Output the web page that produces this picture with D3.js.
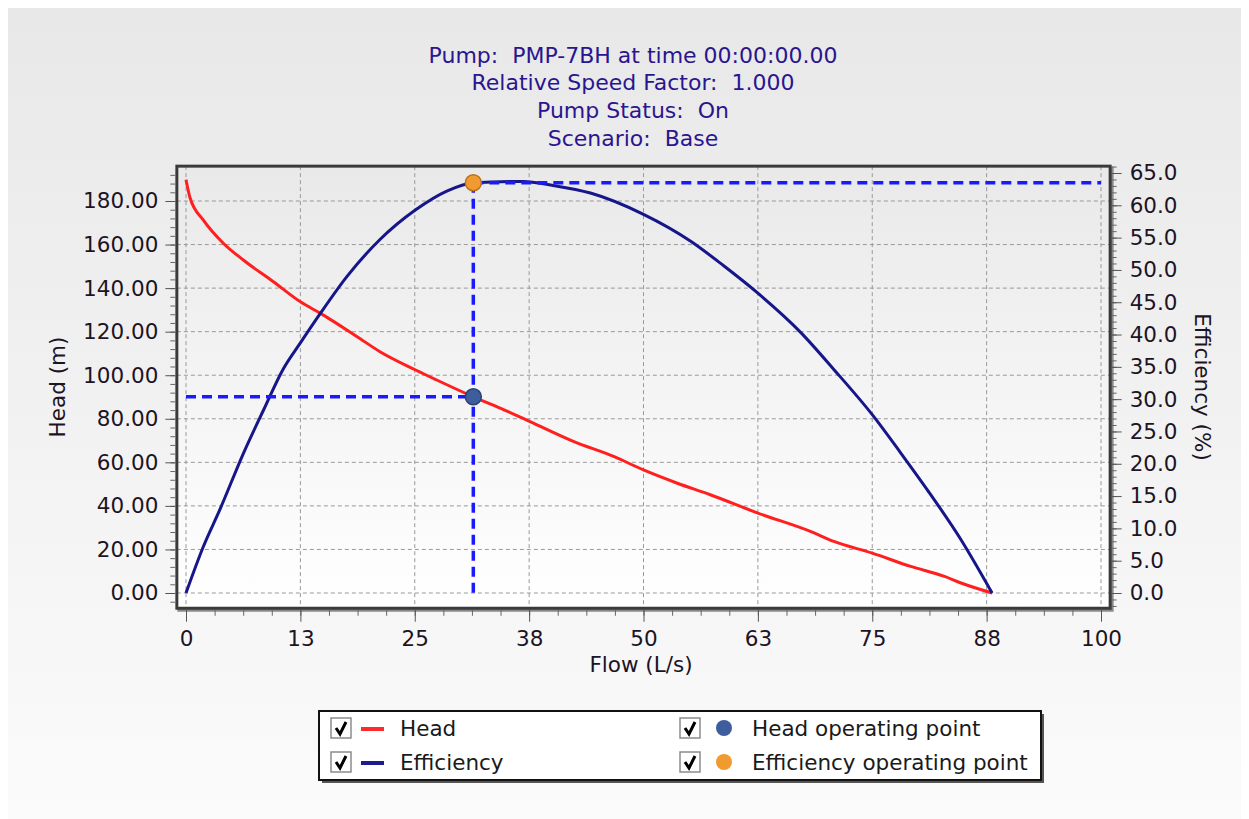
<!DOCTYPE html>
<html>
<head>
<meta charset="utf-8">
<script src="https://cdn.jsdelivr.net/npm/d3@7"></script>
<style>
body { margin: 0; background: #fff; }
svg text { font-family: "DejaVu Sans", sans-serif; white-space: pre; }
</style>
</head>
<body>
<div id="chart-area"></div>
<script>
const FONT_SIZE = 21.5;

// chart values
const titleLines = ["Pump:  PMP-7BH at time 00:00:00.00", "Relative Speed Factor:  1.000", "Pump Status:  On", "Scenario:  Base"];

const headFlow = [0, 0.44, 1.9, 4.1, 6.3, 9.55, 12.5, 14.7, 18.7, 21.2, 25.1, 27.4, 31.4, 34.4, 37.6, 42.4, 46.8, 50, 53.7, 57.3, 62.5, 68.3, 70.8, 75, 79.2, 82.9, 84.7, 88.1];
const headValues = [189.8, 181.5, 171.2, 160.5, 152.8, 142.9, 133.7, 128.4, 117.7, 110.8, 102.4, 97.8, 90.1, 84.8, 78.7, 69.5, 62.6, 56.5, 50.4, 45.1, 36.7, 28.2, 23.7, 18.3, 12.2, 7.6, 4.6, 0];

const effFlow = [0, 1.9, 3.7, 6.3, 8.5, 10.6, 12.5, 14.7, 17.6, 21.2, 25.1, 28.5, 31.4, 33.3, 36.9, 40, 44.2, 50, 55.2, 58.8, 62.5, 67.2, 70.8, 75, 78.1, 81, 84.7, 88.1];
const effValues = [0, 7.2, 12.9, 21.7, 28.4, 34.6, 38.7, 43.3, 49.0, 54.7, 59.3, 62.2, 63.5, 63.6, 63.7, 63.1, 61.9, 58.6, 54.4, 50.6, 46.4, 40.3, 34.6, 27.6, 21.7, 16.0, 8.25, 0];

const opFlow = 31.4, opHead = 90.1, opEff = 63.5;

const flowTicks = d3.range(0, 100.01, 12.5);
const headTicks = d3.range(0, 181, 20);
const effTicks = d3.range(0, 66, 5);

const legendLabels = ["Head", "Efficiency", "Head operating point", "Efficiency operating point"];

const svg = d3.select("#chart-area").append("svg")
    .attr("width", 1249)
    .attr("height", 819);

const defs = svg.append("defs");
addGradient("panelFill", "#e8e8e8", "#fbfbfb");
addGradient("plotFill", "#e9e9e9", "#ffffff");

// scales
const x = d3.scaleLinear().domain([0, 100]).range([186, 1101]);
const yHead = d3.scaleLinear().domain([0, 180]).range([593, 201]);
const yEff = d3.scaleLinear().domain([0, 65]).range([593, 173]);

const frame = {left: x(-1), right: x(101), top: yHead(196), bottom: yHead(-7)};

// background panel
svg.append("rect")
    .attr("x", 8).attr("y", 8)
    .attr("width", 1233).attr("height", 811)
    .attr("fill", "url(#panelFill)");

// title
svg.append("g").selectAll("text")
    .data(titleLines)
    .join("text")
    .attr("x", 633)
    .attr("y", (d, i) => 55 + i * 27.7)
    .attr("text-anchor", "middle")
    .attr("dominant-baseline", "central")
    .attr("font-size", "22px")
    .attr("fill", "#2a1590")
    .text(d => d);

// plot area
svg.append("rect")
    .attr("x", frame.left + 2).attr("y", frame.top + 2)
    .attr("width", frame.right - frame.left).attr("height", frame.bottom - frame.top)
    .attr("fill", "none").attr("stroke", "#8a8a8a").attr("stroke-width", 3);
svg.append("rect")
    .attr("x", frame.left).attr("y", frame.top)
    .attr("width", frame.right - frame.left).attr("height", frame.bottom - frame.top)
    .attr("fill", "url(#plotFill)");

// grid
const grid = svg.append("g")
    .attr("stroke", "#999")
    .attr("stroke-width", 1)
    .attr("stroke-dasharray", "4,3");
grid.selectAll(".vgrid")
    .data(flowTicks)
    .join("line")
    .attr("x1", d => x(d)).attr("x2", d => x(d))
    .attr("y1", frame.top).attr("y2", frame.bottom);
grid.selectAll(".hgrid")
    .data(headTicks)
    .join("line")
    .attr("x1", frame.left).attr("x2", frame.right)
    .attr("y1", d => yHead(d)).attr("y2", d => yHead(d));

// curves
const headLine = d3.line().x(d => x(d[0])).y(d => yHead(d[1])).curve(d3.curveMonotoneX);
const effLine = d3.line().x(d => x(d[0])).y(d => yEff(d[1])).curve(d3.curveMonotoneX);

svg.append("path")
    .datum(d3.zip(headFlow, headValues))
    .attr("d", headLine)
    .attr("fill", "none")
    .attr("stroke", "#ff1f1f")
    .attr("stroke-width", 3);

svg.append("path")
    .datum(d3.zip(effFlow, effValues))
    .attr("d", effLine)
    .attr("fill", "none")
    .attr("stroke", "#16168a")
    .attr("stroke-width", 3);

// operating point guides
const guides = svg.append("g")
    .attr("stroke", "#1a1aff")
    .attr("stroke-width", 3.5)
    .attr("stroke-dasharray", "10,6");
guides.append("line")
    .attr("x1", x(0)).attr("x2", x(opFlow))
    .attr("y1", yHead(opHead)).attr("y2", yHead(opHead));
guides.append("line")
    .attr("x1", x(opFlow)).attr("x2", x(100))
    .attr("y1", yEff(opEff)).attr("y2", yEff(opEff));
guides.append("line")
    .attr("x1", x(opFlow)).attr("x2", x(opFlow))
    .attr("y1", yEff(opEff)).attr("y2", yHead(0));

svg.append("circle")
    .attr("cx", x(opFlow)).attr("cy", yHead(opHead)).attr("r", 8)
    .attr("fill", "#3d5d9c").attr("stroke", "#2c4272").attr("stroke-width", 1.5);
svg.append("circle")
    .attr("cx", x(opFlow)).attr("cy", yEff(opEff)).attr("r", 8)
    .attr("fill", "#f09a30").attr("stroke", "#b8731e").attr("stroke-width", 1.5);

// frame border
svg.append("rect")
    .attr("x", frame.left).attr("y", frame.top)
    .attr("width", frame.right - frame.left).attr("height", frame.bottom - frame.top)
    .attr("fill", "none").attr("stroke", "#3a3a3a").attr("stroke-width", 3);

// axes
drawAxis(d3.axisLeft(yHead).tickValues(headTicks).tickFormat(d3.format(".2f")).tickSize(10).tickPadding(7),
    d3.axisLeft(yHead).tickValues(d3.range(-4, 196, 4)).tickFormat("").tickSize(5),
    `translate(${frame.left - 1.5},0)`);
drawAxis(d3.axisRight(yEff).tickValues(effTicks).tickFormat(d3.format(".1f")).tickSize(10).tickPadding(8),
    d3.axisRight(yEff).tickValues(d3.range(-2, 66.1, 1)).tickFormat("").tickSize(5),
    `translate(${frame.right + 1.5},0)`);
drawAxis(d3.axisBottom(x).tickValues(flowTicks).tickFormat(d => Math.round(d)).tickSize(12).tickPadding(9),
    d3.axisBottom(x).tickValues(d3.range(0, 100.01, 3.125)).tickFormat("").tickSize(6),
    `translate(0,${frame.bottom + 1.5})`);

addLabel(svg, "Head (m)", 57, 387, -90);
addLabel(svg, "Efficiency (%)", 1202, 387, 90);
addLabel(svg, "Flow (L/s)", 641, 664, 0);

// legend
const legend = svg.append("g");
legend.append("rect")
    .attr("x", 322).attr("y", 714).attr("width", 722).attr("height", 69)
    .attr("fill", "#555");
legend.append("rect")
    .attr("x", 319).attr("y", 711).attr("width", 722).attr("height", 69)
    .attr("fill", "#fff").attr("stroke", "#111").attr("stroke-width", 2);

legendLabels.forEach((label, i) => {
    const col = Math.floor(i / 2), row = i % 2;
    const bx = col === 0 ? 331 : 680;
    const cy = 728 + row * 34;
    const item = legend.append("g");
    item.append("rect")
        .attr("x", bx).attr("y", cy - 10).attr("width", 20).attr("height", 20)
        .attr("fill", "#fff").attr("stroke", "#8c8c8c").attr("stroke-width", 1.5);
    item.append("path")
        .attr("d", `M${bx + 5},${cy} L${bx + 9},${cy + 6} L${bx + 15},${cy - 6}`)
        .attr("fill", "none").attr("stroke", "#000").attr("stroke-width", 3);
    if (col === 0) {
        item.append("line")
            .attr("x1", bx + 30).attr("x2", bx + 53)
            .attr("y1", cy + 1).attr("y2", cy + 1)
            .attr("stroke", row === 0 ? "#ff2a2a" : "#1c1c8c")
            .attr("stroke-width", 4);
    } else {
        item.append("circle")
            .attr("cx", bx + 44).attr("cy", cy).attr("r", 8)
            .attr("fill", row === 0 ? "#3d5d9c" : "#f09a30");
    }
    item.append("text")
        .attr("x", col === 0 ? 400 : 752)
        .attr("y", cy)
        .attr("dominant-baseline", "central")
        .attr("font-size", "21.5px")
        .attr("fill", "#1a1a1a")
        .text(label);
});

function addGradient(id, top, bottom) {
    const g = defs.append("linearGradient")
        .attr("id", id)
        .attr("x1", 0).attr("y1", 0).attr("x2", 0).attr("y2", 1);
    g.append("stop").attr("offset", "0%").attr("stop-color", top);
    g.append("stop").attr("offset", "100%").attr("stop-color", bottom);
}

//Draw a major axis with labels plus a minor tick axis at the same place
function drawAxis(major, minor, transform) {
    const m = svg.append("g").attr("transform", transform).call(minor);
    m.select(".domain").remove();
    m.selectAll("line").attr("stroke", "#666");
    const a = svg.append("g").attr("transform", transform).call(major);
    a.select(".domain").remove();
    a.selectAll("line").attr("stroke", "#555");
    a.selectAll("text")
        .attr("font-size", `${FONT_SIZE}px`)
        .attr("font-family", "DejaVu Sans")
        .attr("fill", "#1c1424");
}

//Add an axis title, optionally rotated around its centre
function addLabel(to, label, lx, ly, angle) {
    return to.append("text")
        .attr("transform", `translate(${lx},${ly}) rotate(${angle})`)
        .attr("text-anchor", "middle")
        .attr("dominant-baseline", "central")
        .attr("font-size", `${FONT_SIZE}px`)
        .attr("fill", "#1c1424")
        .text(label);
}
</script>
</body>
</html>
